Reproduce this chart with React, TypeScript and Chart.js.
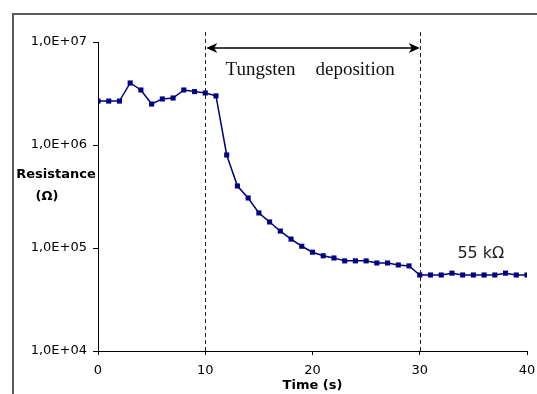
import React, { useEffect, useRef } from "react";
import { Chart, registerables } from "chart.js";

Chart.register(...registerables);

const times = [0,1,2,3,4,5,6,7,8,9,10,11,12,13,14,15,16,17,18,19,20,21,22,23,24,25,26,27,28,29,30,31,32,33,34,35,36,37,38,39,40];
const resistance = [2.67e6,2.67e6,2.67e6,4.0e6,3.42e6,2.5e6,2.8e6,2.86e6,3.42e6,3.3e6,3.2e6,3.0e6,8.0e5,4.0e5,3.06e5,2.19e5,1.79e5,1.46e5,1.22e5,1.04e5,9.1e4,8.4e4,8.0e4,7.5e4,7.5e4,7.5e4,7.15e4,7.15e4,6.84e4,6.7e4,5.47e4,5.47e4,5.47e4,5.7e4,5.47e4,5.47e4,5.47e4,5.47e4,5.7e4,5.47e4,5.47e4];
const yTicks = [1e4, 1e5, 1e6, 1e7];
const xTicks = [0, 10, 20, 30, 40];
const depositionStart = 10;
const depositionEnd = 30;
const depositionWords = ["Tungsten", "deposition"];
const finalLabel = "55 k\u03A9";
const yTitle = ["Resistance", "(\u03A9)"];
const xTitle = "Time (s)";

function fmtTick(v: number): string {
  const e = Math.round(Math.log10(v));
  return "1,0E+" + (e < 10 ? "0" : "") + e;
}

const overlay = {
  id: "overlay",
  beforeDraw(chart: any) {
    const ctx = chart.ctx;
    ctx.save();
    ctx.fillStyle = "#fff";
    ctx.fillRect(0, 0, chart.width, chart.height);
    ctx.strokeStyle = "#5a5a5a";
    ctx.lineWidth = 2;
    ctx.strokeRect(13, 14, chart.width + 50, chart.height + 50);
    ctx.restore();
  },
  afterDraw(chart: any) {
    const ctx = chart.ctx;
    const xs = chart.scales.x;
    const ys = chart.scales.y;
    const area = chart.chartArea;
    ctx.save();
    // dashed vertical lines
    ctx.strokeStyle = "#222";
    ctx.lineWidth = 1;
    ctx.setLineDash([4, 3]);
    [depositionStart, depositionEnd].forEach((v) => {
      const px = Math.round(xs.getPixelForValue(v)) + 0.5;
      ctx.beginPath();
      ctx.moveTo(px, area.top - 10);
      ctx.lineTo(px, area.bottom);
      ctx.stroke();
    });
    ctx.setLineDash([]);
    // double arrow
    const x1 = xs.getPixelForValue(depositionStart) + 1;
    const x2 = xs.getPixelForValue(depositionEnd);
    const ay = area.top + 6;
    ctx.strokeStyle = "#000";
    ctx.lineWidth = 1.5;
    ctx.beginPath();
    ctx.moveTo(x1 + 6, ay);
    ctx.lineTo(x2 - 6, ay);
    ctx.stroke();
    ctx.fillStyle = "#000";
    ctx.beginPath();
    ctx.moveTo(x1, ay);
    ctx.lineTo(x1 + 11, ay - 5);
    ctx.lineTo(x1 + 8, ay);
    ctx.lineTo(x1 + 11, ay + 5);
    ctx.closePath();
    ctx.fill();
    ctx.beginPath();
    ctx.moveTo(x2, ay);
    ctx.lineTo(x2 - 11, ay - 5);
    ctx.lineTo(x2 - 8, ay);
    ctx.lineTo(x2 - 11, ay + 5);
    ctx.closePath();
    ctx.fill();
    // deposition text
    ctx.fillStyle = "#111";
    ctx.font = "19px 'Liberation Serif'";
    ctx.textBaseline = "alphabetic";
    ctx.textAlign = "left";
    const mid = xs.getPixelForValue((depositionStart + depositionEnd) / 2);
    ctx.fillText(depositionWords[0], mid - 87, area.top + 33);
    ctx.fillText(depositionWords[1], mid + 3, area.top + 33);
    // 55 kOhm
    ctx.font = "16px 'DejaVu Sans'";
    ctx.fillStyle = "#222";
    ctx.textAlign = "center";
    ctx.textBaseline = "middle";
    ctx.fillText(finalLabel, xs.getPixelForValue(35.7), ys.getPixelForValue(8.7e4));
    // axis titles
    ctx.fillStyle = "#000";
    ctx.font = "bold 13px 'DejaVu Sans'";
    ctx.fillText(yTitle[0], 56, 175);
    ctx.fillText(yTitle[1], 47, 197);
    ctx.fillText(xTitle, (area.left + area.right) / 2, 386);
    ctx.restore();
  },
};

export default function App() {
  const ref = useRef<HTMLCanvasElement>(null);
  useEffect(() => {
    if (!ref.current) return;
    const chart = new Chart(ref.current, {
      type: "line",
      data: {
        datasets: [
          {
            data: times.map((t, i) => ({ x: t, y: resistance[i] })),
            borderColor: "#000080",
            backgroundColor: "#000080",
            borderWidth: 1.5,
            pointStyle: "rect",
            pointRadius: 3.6,
            pointBorderWidth: 0,
            tension: 0,
          },
        ],
      },
      options: {
        animation: false,
        responsive: false,
        devicePixelRatio: 1,
        layout: { padding: { left: 0, right: 10, top: 42, bottom: 0 } },
        plugins: { legend: { display: false }, tooltip: { enabled: false } },
        scales: {
          x: {
            type: "linear",
            min: 0,
            max: 40,
            afterFit: (s: any) => { s.height = 43; s.paddingRight = 0; s.paddingLeft = 0; },
            afterBuildTicks: (s: any) => { s.ticks = xTicks.map((v) => ({ value: v })); },
            grid: { drawOnChartArea: false, drawTicks: true, tickLength: 4, color: "#000" },
            border: { display: true, color: "#000", width: 1 },
            ticks: { color: "#000", font: { family: "DejaVu Sans", size: 13 }, padding: 8, maxRotation: 0 },
          },
          y: {
            type: "logarithmic",
            min: 1e4,
            max: 1e7,
            afterFit: (s: any) => { s.width = 98; },
            afterBuildTicks: (s: any) => { s.ticks = yTicks.map((v) => ({ value: v })); },
            grid: { drawOnChartArea: false, drawTicks: true, tickLength: 5, color: "#000" },
            border: { display: true, color: "#000", width: 1 },
            ticks: { color: "#000", font: { family: "DejaVu Sans", size: 13 }, padding: 6, callback: (v: any) => fmtTick(Number(v)) },
          },
        },
      },
      plugins: [overlay],
    });
    return () => chart.destroy();
  }, []);
  return (
    <div style={{ position: "fixed", left: 0, top: 0, width: 537, height: 394 }}>
      <canvas ref={ref} width={537} height={394} style={{ width: 537, height: 394 }} />
    </div>
  );
}
